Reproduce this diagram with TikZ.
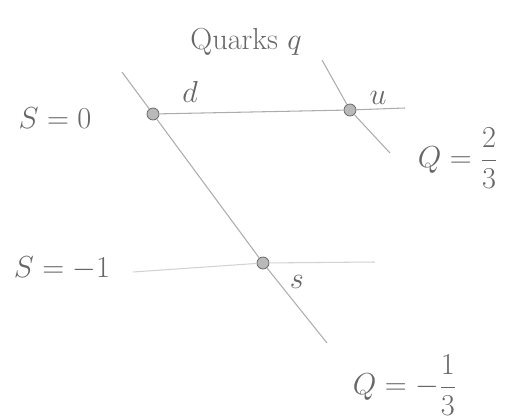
\documentclass[tikz,border=0pt]{standalone}
\tikzset{
	quark/.style={circle, draw=gray!75!black, fill=gray!55, inner sep=0pt, minimum size=2.4mm},
	pencil/.style={gray!65, line width=0.6pt},
	hand/.style={text=gray!80!black, font=\LARGE}
}
\begin{document}
\begin{tikzpicture}[x=0.02cm, y=-0.02cm]
	\useasboundingbox (0,0) rectangle (512,419);
	\node[hand] (title) at (246,42) {Quarks $q$};
	% the quarks
	\node[quark] (d) at (153,114) {};
	\node[quark] (u) at (350,110) {};
	\node[quark] (s) at (263,263) {};
	\node[hand] (dlab) at (190,92) {$d$};
	\node[hand] (ulab) at (378,98) {$u$};
	\node[hand] (slab) at (297,282) {$s$};
	% strangeness
	\node[hand] (szero) at (55,118) {$S=0$};
	\node[hand] (sminus) at (62,268) {$S=-1$};
	\coordinate (szeroend) at (405,108);
	\coordinate (sminusa) at (133,272);
	\coordinate (sminusb) at (375,262);
	\draw[pencil] (d) -- (u) -- (szeroend);
	\draw[pencil, gray!35] (sminusa) -- (s) -- (sminusb);
	% charge
	\node[hand] (qtwo) at (458,158) {$Q=\displaystyle\frac{2}{3}$};
	\node[hand] (qone) at (405,385) {$Q=-\displaystyle\frac{1}{3}$};
	\coordinate (qonea) at (122,72);
	\coordinate (qoneb) at (327,343);
	\coordinate (qtwoa) at (322,60);
	\coordinate (qtwob) at (390,153);
	\draw[pencil] (qonea) -- (d) -- (s) -- (qoneb);
	\draw[pencil] (qtwoa) -- (u) -- (qtwob);
\end{tikzpicture}
\end{document}
